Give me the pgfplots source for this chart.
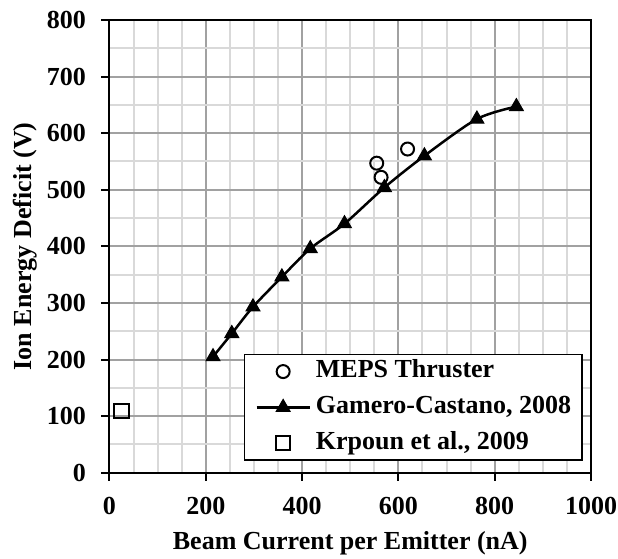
\documentclass[border=0pt]{standalone}
\usepackage{fontspec}
\setmainfont{Liberation Serif}
\usepackage{pgfplots}
\pgfplotsset{compat=1.18}
\begin{document}
\begin{tikzpicture}
\useasboundingbox (-109.5pt,-85.3pt) rectangle (508.5pt,472.7pt);
\begin{axis}[
  at={(0pt,0pt)}, anchor=south west,
  scale only axis, width=481.5pt, height=452.7pt,
  xmin=0, xmax=1000, ymin=0, ymax=800,
  xtick={0,200,...,1000}, ytick={0,100,...,800},
  minor x tick num=3, minor y tick num=1,
  grid=both,
  major grid style={draw=black!37, line width=2pt},
  minor grid style={draw=black!15, line width=2pt},
  axis line style={black, line width=2pt},
  tick style={black, line width=2pt},
  major tick length=8pt, minor tick length=0pt,
  tick align=outside, tick pos=left,
  /pgf/number format/assume math mode=true,
  /pgf/number format/1000 sep={},
  ticklabel style={font=\fontsize{26}{30}\selectfont\bfseries},
  xticklabel style={yshift=-13pt},
  yticklabel style={xshift=-12pt},
  xlabel={Beam Current per Emitter (nA)},
  ylabel={Ion Energy Deficit (V)},
  every axis x label/.style={at={(axis description cs:0.5,0)}, anchor=center, yshift=-70.3pt, font=\fontsize{26}{30}\selectfont\bfseries},
  every axis y label/.style={at={(axis description cs:0,0.5)}, xshift=-84.5pt, anchor=center, rotate=90, font=\fontsize{26}{30}\selectfont\bfseries},
  legend image code/.code={\draw[mark repeat=2,mark phase=2,#1] plot coordinates {(0pt,0pt) (26.5pt,0pt) (53pt,0pt)};},
  legend cell align=left,
  legend style={at={(rel axis cs:0.983,0.026)}, anchor=south east,
    draw=black, line width=1.5pt, fill=white,
    inner xsep=11pt, inner ysep=5pt,
    font=\fontsize{26}{30}\selectfont\bfseries,
    nodes={inner sep=0pt, text height=18pt, text depth=6pt},
    row sep=11.8pt,
    /tikz/every odd column/.append style={column sep=5pt}},
]
\addplot[only marks, mark=o, mark size=6.5pt, line width=2pt, black]
  coordinates {(555,547) (564,522) (619,572)};
\addlegendentry{MEPS Thruster}
\addplot[black, line width=2.5pt, smooth, mark=triangle*, mark size=8pt, mark options={solid, line width=1pt}]
  coordinates {(215,205) (254,246) (298,293) (358,346) (417,396) (488,440) (571,504) (654,560) (763,625) (845,647)};
\addlegendentry{Gamero-Castano, 2008}
\addplot[only marks, mark=square, mark size=7.3pt, line width=2pt, black]
  coordinates {(25,109)};
\addlegendentry{Krpoun et al., 2009}
\end{axis}
\end{tikzpicture}
\end{document}
